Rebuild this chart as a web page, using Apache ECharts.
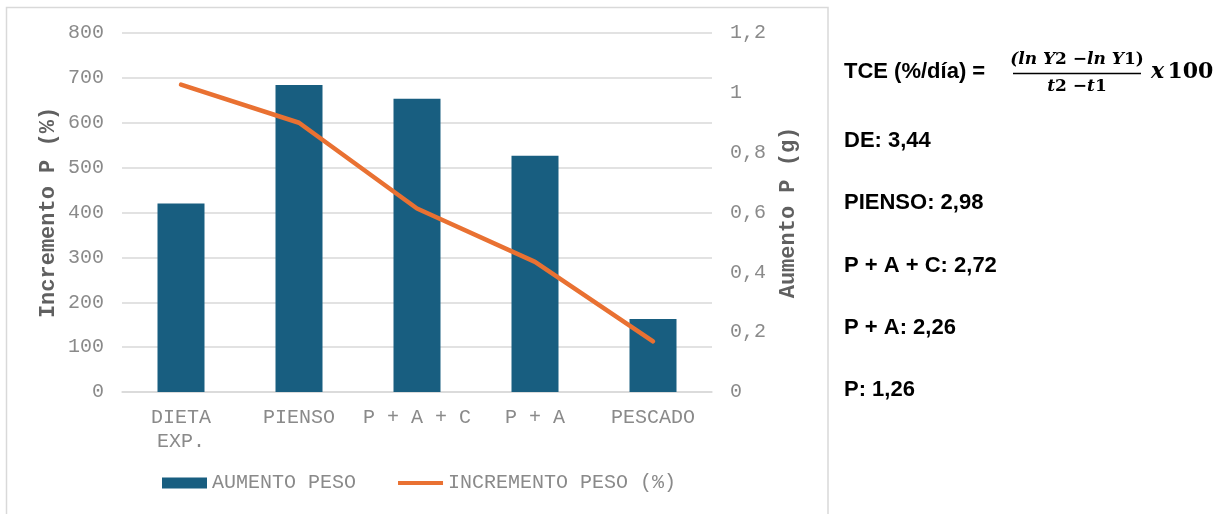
<!DOCTYPE html>
<html>
<head>
<meta charset="utf-8">
<script src="https://cdn.jsdelivr.net/npm/echarts@6/dist/echarts.min.js"></script>
<style>
  html, body { margin: 0; padding: 0; background: #ffffff; }
  #chart { width: 1227px; height: 514px; }
</style>
</head>
<body>
<div id="chart"></div>
<script>
// Dietas ensayadas
const categories = ['DIETA\nEXP.', 'PIENSO', 'P + A + C', 'P + A', 'PESCADO'];
// Aumento de peso (g) – barras, eje derecho
const aumentoPeso = [0.63, 1.026, 0.98, 0.79, 0.244];
// Incremento de peso (%) – línea, eje izquierdo
const incrementoPeso = [685, 600, 409, 290, 113];
// Tasa de crecimiento específico por dieta
const tceLabels = ['DE: 3,44', 'PIENSO: 2,98', 'P + A + C: 2,72', 'P + A: 2,26', 'P: 1,26'];

const mono = '"Liberation Mono", "Courier New", monospace';
const sans = '"Liberation Sans", Arial, sans-serif';
const serif = '"DejaVu Serif", "Liberation Serif", serif';
const tickColor = '#8a8a8a';
const nameColor = '#606060';

const chart = echarts.init(document.getElementById('chart'));

const textItems = tceLabels.map((t, i) => ({
  type: 'text',
  x: 844,
  y: 141 + i * 62.3,
  style: { text: t, font: 'bold 22px ' + sans, fill: '#000000', verticalAlign: 'middle' }
}));

chart.setOption({
  animation: false,
  backgroundColor: '#ffffff',
  grid: { left: 122, right: 515, top: 33, bottom: 122 },
  legend: {
    left: 162,
    top: 473,
    padding: 0,
    itemWidth: 45,
    itemHeight: 11,
    itemGap: 42,
    textStyle: { fontFamily: mono, fontSize: 20, color: tickColor, padding: [0, 0, 0, 0] },
    data: [
      { name: 'AUMENTO PESO', icon: 'rect' },
      { name: 'INCREMENTO PESO (%)', icon: 'path://M0,0 L0,0 M0,3.5 L45,3.5 L45,7.5 L0,7.5 Z M45,11 L45,11' }
    ]
  },
  xAxis: {
    type: 'category',
    data: categories,
    axisTick: { show: false },
    axisLine: { lineStyle: { color: '#d9d9d9', width: 1.5 } },
    axisLabel: { fontFamily: mono, fontSize: 20, color: tickColor, margin: 14, lineHeight: 24, interval: 0 }
  },
  yAxis: [
    {
      type: 'value',
      min: 0, max: 800, interval: 100,
      name: 'Incremento P (%)',
      nameLocation: 'middle',
      nameGap: 63,
      nameTextStyle: { fontFamily: mono, fontSize: 22, fontWeight: 'bold', color: nameColor },
      axisLine: { show: false },
      axisTick: { show: false },
      axisLabel: { fontFamily: mono, fontSize: 20, color: tickColor, margin: 18 },
      splitLine: { lineStyle: { color: '#d9d9d9', width: 1.5 } }
    },
    {
      type: 'value',
      min: 0, max: 1.2, interval: 0.2,
      name: 'Aumento P (g)',
      nameLocation: 'middle',
      nameGap: 65,
      nameTextStyle: { fontFamily: mono, fontSize: 22, fontWeight: 'bold', color: nameColor },
      axisLine: { show: false },
      axisTick: { show: false },
      axisLabel: {
        fontFamily: mono, fontSize: 20, color: tickColor, margin: 18,
        formatter: v => String(+v.toFixed(1)).replace('.', ',')
      },
      splitLine: { show: false }
    }
  ],
  series: [
    {
      name: 'AUMENTO PESO',
      type: 'bar',
      yAxisIndex: 1,
      data: aumentoPeso,
      barWidth: 47,
      itemStyle: { color: '#185E80' }
    },
    {
      name: 'INCREMENTO PESO (%)',
      type: 'line',
      yAxisIndex: 0,
      data: incrementoPeso,
      symbol: 'none',
      lineStyle: { color: '#E97132', width: 4.5, cap: 'round', join: 'round' },
      itemStyle: { color: '#E97132' }
    }
  ],
  graphic: [
    {
      type: 'rect',
      shape: { x: 6.5, y: 7.5, width: 821.5, height: 530 },
      style: { fill: 'none', stroke: '#d9d9d9', lineWidth: 1.5 },
      silent: true
    },
    {
      type: 'text',
      x: 844, y: 72,
      style: { text: 'TCE (%/día) =', font: 'bold 22px ' + sans, fill: '#000000', verticalAlign: 'middle' }
    },
    {
      type: 'text',
      x: 1077, y: 60,
      style: {
        text: '{i|(ln Y}{n|2}{i| −ln Y}{n|1}{n|)}',
        align: 'center', verticalAlign: 'middle',
        rich: {
          i: { font: 'italic bold 17px ' + serif, fill: '#000000' },
          n: { font: 'bold 17px ' + serif, fill: '#000000' }
        }
      }
    },
    {
      type: 'line',
      shape: { x1: 1013, y1: 73.5, x2: 1141, y2: 73.5 },
      style: { stroke: '#000000', lineWidth: 1.3 }
    },
    {
      type: 'text',
      x: 1077, y: 87,
      style: {
        text: '{i|t}{n|2}{i| −t}{n|1}',
        align: 'center', verticalAlign: 'middle',
        rich: {
          i: { font: 'italic bold 17px ' + serif, fill: '#000000' },
          n: { font: 'bold 17px ' + serif, fill: '#000000' }
        }
      }
    },
    {
      type: 'text',
      x: 1151, y: 72,
      style: {
        text: '{i|x} {n|100}',
        verticalAlign: 'middle',
        rich: {
          i: { font: 'italic bold 22px ' + serif, fill: '#000000' },
          n: { font: 'bold 22px ' + serif, fill: '#000000' }
        }
      }
    }
  ].concat(textItems)
});
</script>
</body>
</html>
